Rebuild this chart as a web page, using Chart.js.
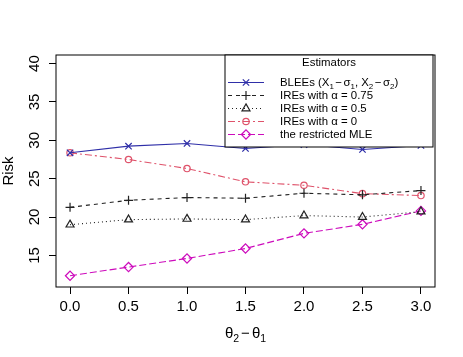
<!DOCTYPE html>
<html>
<head>
<meta charset="utf-8">
<script src="https://cdn.jsdelivr.net/npm/chart.js@4/dist/chart.umd.min.js"></script>
<style>
html,body{margin:0;padding:0;background:#fff;}
#wrap{width:463px;height:357px;}
</style>
</head>
<body>
<div id="wrap"><canvas id="c" width="463" height="357"></canvas></div>
<script>
// ---- data ----
const xValues = [0.0, 0.5, 1.0, 1.5, 2.0, 2.5, 3.0];
const bleeRisk = [28.37, 29.24, 29.59, 28.94, 29.45, 28.81, 29.33];
const ire075Risk = [21.27, 22.18, 22.54, 22.45, 23.1, 22.9, 23.45];
const ire05Risk = [19.0, 19.66, 19.75, 19.66, 20.19, 20.0, 20.7];
const ire0Risk = [28.37, 27.5, 26.32, 24.59, 24.14, 23.05, 22.8];
const mleRisk = [12.35, 13.48, 14.6, 15.9, 17.87, 19.05, 20.8];
const xTicks = [0.0, 0.5, 1.0, 1.5, 2.0, 2.5, 3.0];
const yTicks = [15, 20, 25, 30, 35, 40];
const legendTitle = 'Estimators';

const FONT = '"Liberation Sans", Arial, Helvetica, sans-serif';
const LEG = 11.4;
const pts = arr => arr.map((v, i) => ({x: xValues[i], y: v}));

const seriesDefs = [
  {label: 'BLEEs', data: bleeRisk, color: '#2f2fa8', dash: [], style: 'crossRot', r: 4.5,
   legend: [['BLEEs (X',0],['1',1],[1.5,2],['\u2212',0],[1.5,2],['\u03c3',0],['1',1],[', X',0],['2',1],[1.5,2],['\u2212',0],[1.5,2],['\u03c3',0],['2',1],[')',0]]},
  {label: 'IREs with \u03b1 = 0.75', data: ire075Risk, color: '#222222', dash: [4,4], style: 'cross', r: 4.5,
   legend: [['IREs with \u03b1 = 0.75',0]]},
  {label: 'IREs with \u03b1 = 0.5', data: ire05Risk, color: '#222222', dash: [1,3], style: 'triangle', r: 4.6,
   legend: [['IREs with \u03b1 = 0.5',0]]},
  {label: 'IREs with \u03b1 = 0', data: ire0Risk, color: '#df536b', dash: [7,3,2,3], style: 'circle', r: 3.2,
   legend: [['IREs with \u03b1 = 0',0]]},
  {label: 'the restricted MLE', data: mleRisk, color: '#cd0bbc', dash: [7,3], style: 'rectRot', r: 4.6,
   legend: [['the restricted MLE',0]]}
];

function drawRich(ctx, parts, x, y, size, align) {
  // parts: [text, 0 normal | 1 subscript] or [px, 2] gap
  const subSize = size * 0.7;
  const wOf = p => { if (p[1] === 2) return p[0]; ctx.font = (p[1] ? subSize : size) + 'px ' + FONT; return ctx.measureText(p[0]).width; };
  let total = 0;
  parts.forEach(p => { total += wOf(p); });
  let cx = align === 'center' ? x - total / 2 : x;
  ctx.textAlign = 'left';
  ctx.textBaseline = 'alphabetic';
  parts.forEach(p => {
    const w = wOf(p);
    if (p[1] !== 2) ctx.fillText(p[0], cx, y + (p[1] ? size * 0.25 : 0));
    cx += w;
  });
}

const decor = {
  id: 'decor',
  afterDraw(chart) {
    const ctx = chart.ctx;
    const ca = chart.chartArea;
    const xs = chart.scales.x, ys = chart.scales.y;
    ctx.save();
    ctx.strokeStyle = '#000';
    ctx.lineWidth = 1;
    ctx.setLineDash([]);
    ctx.strokeRect(ca.left, ca.top, ca.right - ca.left, ca.bottom - ca.top);
    ctx.fillStyle = '#000';
    ctx.font = '15px ' + FONT;
    ctx.textAlign = 'center';
    ctx.textBaseline = 'middle';
    xTicks.forEach(v => ctx.fillText(v.toFixed(1), xs.getPixelForValue(v), 307));
    yTicks.forEach(v => {
      ctx.save();
      ctx.translate(35, ys.getPixelForValue(v));
      ctx.rotate(-Math.PI / 2);
      ctx.textAlign = 'center';
      ctx.textBaseline = 'middle';
      ctx.fillText(String(v), 0, 0);
      ctx.restore();
    });
    ctx.save();
    ctx.translate(9, (ca.top + ca.bottom) / 2);
    ctx.rotate(-Math.PI / 2);
    ctx.textAlign = 'center';
    ctx.textBaseline = 'middle';
    ctx.font = '15px ' + FONT;
    ctx.fillText('Risk', 0, 0);
    ctx.restore();
    drawRich(ctx, [['\u03b8',0],['2',1],[2,2],['\u2212',0],[2,2],['\u03b8',0],['1',1]], (ca.left + ca.right) / 2, 338, 15, 'center');

    // legend
    const lx = 225, ly = ca.top, lw = ca.right - 2 - 225, lh = 92;
    ctx.fillStyle = '#fff';
    ctx.fillRect(lx, ly, lw, lh);
    ctx.strokeStyle = '#000';
    ctx.strokeRect(lx, ly, lw, lh);
    ctx.fillStyle = '#000';
    ctx.font = LEG + 'px ' + FONT;
    ctx.textAlign = 'center';
    ctx.textBaseline = 'middle';
    ctx.fillText(legendTitle, lx + lw / 2, ly + 8);
    seriesDefs.forEach((s, i) => {
      const ry = 81.7 + i * 13.1;
      const py = Math.round(ry) + 0.5;
      ctx.save();
      ctx.strokeStyle = s.color;
      ctx.lineWidth = 1.2;
      ctx.setLineDash(s.dash);
      ctx.beginPath();
      ctx.moveTo(228, py);
      ctx.lineTo(264, py);
      ctx.stroke();
      ctx.setLineDash([]);
      ctx.fillStyle = 'rgba(0,0,0,0)';
      ctx.strokeStyle = s.color;
      ctx.lineWidth = 1.2;
      Chart.helpers.drawPoint(ctx, {pointStyle: s.style, radius: s.r, borderWidth: 1.2, rotation: 0}, 246, py);
      ctx.restore();
      ctx.fillStyle = '#000';
      drawRich(ctx, s.legend, 280, ry + 4, LEG, 'left');
    });
    ctx.restore();
  }
};

new Chart(document.getElementById('c'), {
  type: 'line',
  data: {
    datasets: seriesDefs.map(s => ({
      label: s.label,
      data: pts(s.data),
      borderColor: s.color,
      backgroundColor: 'rgba(0,0,0,0)',
      borderWidth: 1.1,
      borderDash: s.dash,
      pointStyle: s.style,
      pointRadius: s.r,
      pointBorderColor: s.color,
      pointBackgroundColor: 'rgba(0,0,0,0)',
      pointBorderWidth: 1.2,
      tension: 0,
      fill: false
    }))
  },
  options: {
    responsive: false,
    animation: false,
    devicePixelRatio: 1,
    layout: {padding: {left: 0, top: 55, right: 28, bottom: 0}},
    plugins: {legend: {display: false}, tooltip: {enabled: false}, title: {display: false}},
    scales: {
      x: {
        type: 'linear', min: -0.12, max: 3.12,
        afterBuildTicks: sc => { sc.ticks = xTicks.map(v => ({value: v})); },
        afterFit: sc => { sc.height = 70; },
        ticks: {display: false},
        grid: {drawOnChartArea: false, drawTicks: true, tickLength: 7, color: '#000', tickColor: '#000'},
        border: {display: false},
        title: {display: false}
      },
      y: {
        type: 'linear', min: 10.88, max: 41.12,
        afterBuildTicks: sc => { sc.ticks = yTicks.map(v => ({value: v})); },
        afterFit: sc => { sc.width = 56; },
        ticks: {display: false},
        grid: {drawOnChartArea: false, drawTicks: true, tickLength: 7, color: '#000', tickColor: '#000'},
        border: {display: false},
        title: {display: false}
      }
    }
  },
  plugins: [decor]
});
</script>
</body>
</html>
